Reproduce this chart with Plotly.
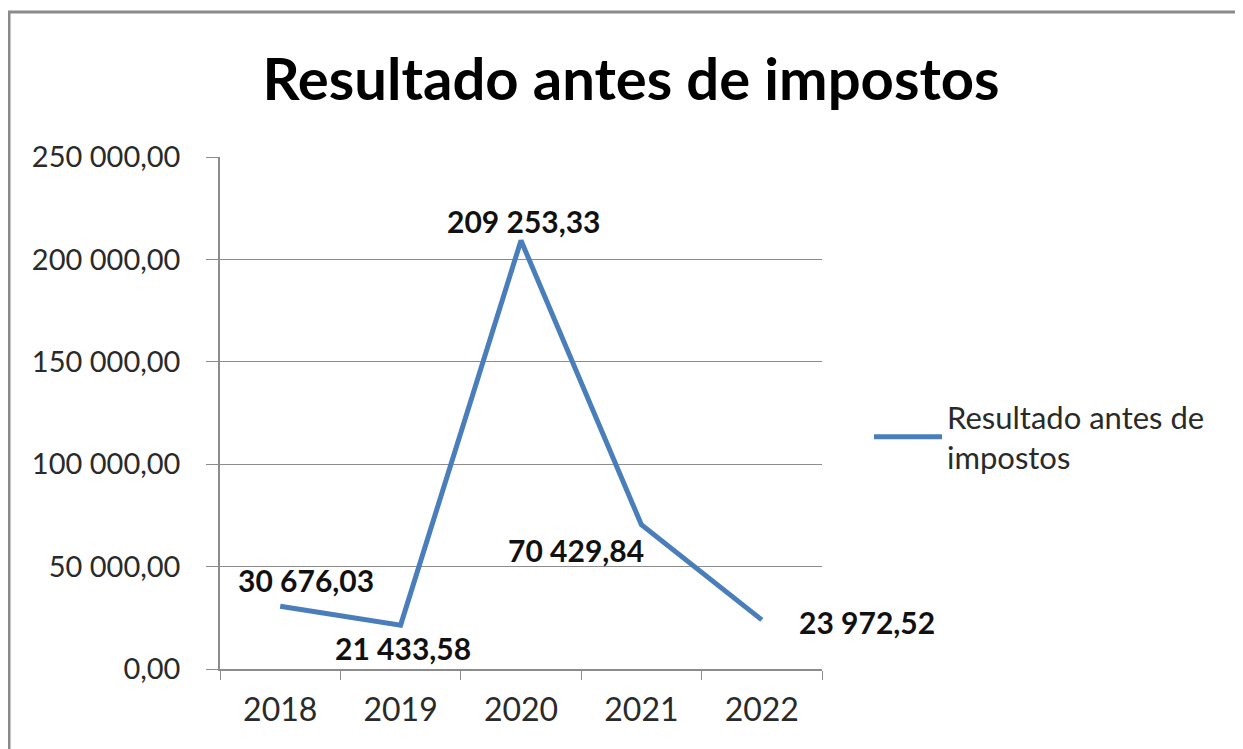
import plotly.graph_objects as go

# --- données -------------------------------------------------------
anos = ["2018", "2019", "2020", "2021", "2022"]
resultado = [30676.03, 21433.58, 209253.33, 70429.84, 23972.52]
rotulos = ["30 676,03", "21 433,58", "209 253,33", "70 429,84", "23 972,52"]
# décalages des étiquettes (px) : x, y
desloc = [(26, 26), (2, -23), (3, 19), (-65, -25), (105, -2)]

FONT = "Lato, 'Open Sans', sans-serif"
AZUL = "#4a7ebb"
CINZA = "#8c8c8c"

# zone de tracé dans la figure (la page ajoute 8 px de marge au body)
L, T, W, H = 212, 149, 602, 512

fig = go.Figure()
fig.add_trace(go.Scatter(
    x=anos, y=resultado, mode="lines",
    name="Resultado antes de<br>impostos",
    line=dict(color=AZUL, width=5),
))

# étiquettes : x en index de catégorie (sinon "2018" est lu comme un nombre)
for i, (v, t, (dx, dy)) in enumerate(zip(resultado, rotulos, desloc)):
    fig.add_annotation(
        x=i, y=v, text=f"<b>{t}</b>", showarrow=False, xshift=dx, yshift=dy,
        font=dict(family=FONT, size=30, color="#111111"),
    )

# cadre extérieur (haut + gauche visibles)
fig.add_shape(
    type="rect", xref="paper", yref="paper",
    x0=(1 - L) / W, x1=1.8, y0=-0.5, y1=(T + H - 4) / H,
    line=dict(color="#8a8a8a", width=3),
)

fig.update_layout(
    width=1243, height=749,
    margin=dict(l=L, r=1243 - L - W, t=T, b=749 - T - H),
    paper_bgcolor="white", plot_bgcolor="white",
    separators=", ",
    font=dict(family=FONT, size=29, color="#2a2a2a"),
    title=dict(
        text="<b>Resultado antes de impostos</b>",
        x=623 / 1243, xanchor="center", y=1 - 72 / 749, yanchor="middle",
        font=dict(family=FONT, size=58, color="#000000"),
    ),
    showlegend=True,
    legend=dict(
        x=(869 - 8 - L) / W, xanchor="left", y=0.453, yanchor="middle",
        font=dict(family=FONT, size=31, color="#2a2a2a"),
        itemwidth=68,
        bgcolor="rgba(0,0,0,0)",
    ),
)
fig.update_xaxes(
    type="category", range=[-0.5, 4.5],
    showgrid=False, showline=True, linecolor=CINZA, linewidth=1.5,
    ticks="outside", tickson="boundaries", ticklen=9, tickcolor=CINZA,
    ticklabelstandoff=12, tickfont=dict(size=32),
)
fig.update_yaxes(
    range=[0, 250000], dtick=50000, tickformat=",.2f",
    showgrid=True, gridcolor=CINZA, gridwidth=1.2,
    showline=True, linecolor=CINZA, linewidth=1.5, zeroline=False,
    ticks="outside", ticklen=12, tickcolor=CINZA,
    ticklabelstandoff=20,
)

fig.write_html("out.html")
